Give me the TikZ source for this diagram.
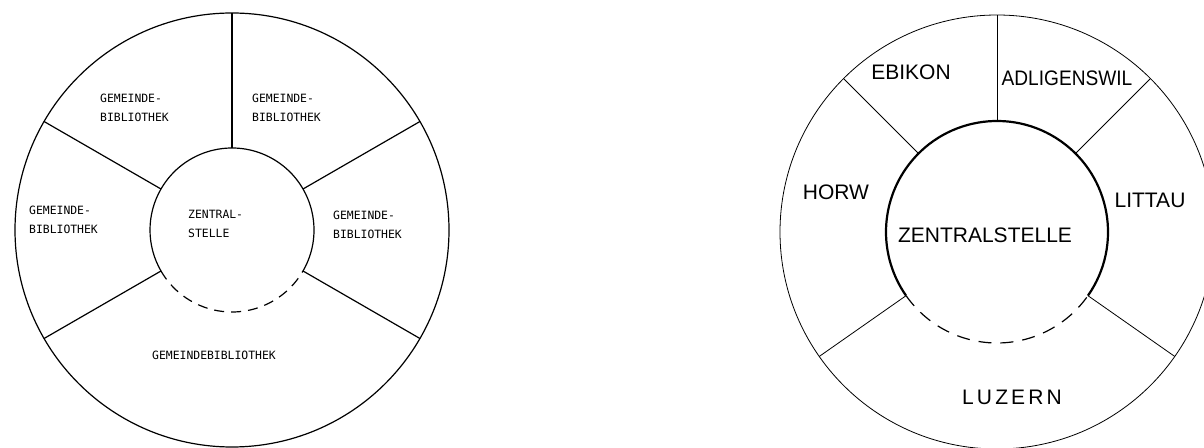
\documentclass[tikz,border=0pt]{standalone}
\usepackage{fontspec}
\newfontfamily\stencilfont{Liberation Sans}
\newfontfamily\spacedfont[LetterSpace=15]{Liberation Sans}
\newfontfamily\typerfont{DejaVu Sans Mono}
\usetikzlibrary{calc}

\begin{document}
\begin{tikzpicture}[x=1pt, y=1pt,
  ring/.style={circle, draw=black, inner sep=0pt, outer sep=0pt},
  core/.style={circle, inner sep=0pt, outer sep=0pt},
  spoke/.style={draw=black, line width=1.2pt},
  thinspoke/.style={draw=black, line width=0.8pt},
  gap/.style={dash pattern=on 10pt off 7pt},
  typed/.style={font=\fontsize{11.4}{19}\selectfont\typerfont, align=left, inner sep=0pt, anchor=west},
  lettered/.style={font=\fontsize{21}{24}\selectfont\stencilfont, inner sep=0pt}
]
\useasboundingbox (0,0) rectangle (1204,447);
\node[ring, line width=1.2pt, minimum size=434pt] (lout) at (232,217) {};
\node[core, minimum size=164pt] (lin) at (232,217) {};
\draw[line width=1.2pt] (lin.330) arc[start angle=-30, end angle=210, radius=82pt];
\draw[line width=1.2pt, gap] (lin.210) arc[start angle=210, end angle=330, radius=82pt];
\draw[spoke] (lin.90) -- (lout.90);
\draw[spoke] (lin.30) -- (lout.30);
\draw[spoke] (lin.150) -- (lout.150);
\draw[spoke] (lin.210) -- (lout.210);
\draw[spoke] (lin.330) -- (lout.330);
\node[typed] (lnw) at (100,339) {GEMEINDE-\\BIBLIOTHEK};
\node[typed] (lne) at (252,339) {GEMEINDE-\\BIBLIOTHEK};
\node[typed] (lw) at (29,227) {GEMEINDE-\\BIBLIOTHEK};
\node[typed] (le) at (333,222) {GEMEINDE-\\BIBLIOTHEK};
\node[typed] (lz) at (188,223) {ZENTRAL-\\STELLE};
\node[typed, anchor=center] (ls) at (214,92) {GEMEINDEBIBLIOTHEK};
\node[ring, line width=0.8pt, minimum size=434pt] (rout) at (997,215) {};
\node[core, minimum size=222pt] (rin) at (997,215) {};
\draw[line width=2.2pt] (rin.325) arc[start angle=-35, end angle=215, radius=111pt];
\draw[line width=1.2pt, dash pattern=on 13pt off 9pt] (rin.215) arc[start angle=215, end angle=325, radius=111pt];
\draw[thinspoke] (rin.90) -- (rout.90);
\draw[thinspoke] (rin.45) -- (rout.45);
\draw[thinspoke] (rin.135) -- (rout.135);
\draw[thinspoke] (rin.215) -- (rout.215);
\draw[thinspoke] (rin.325) -- (rout.325);
\node[lettered] (rebikon) at (911,375) {EBIKON};
\node[lettered] (radligenswil) at (1067,369) {\scalebox{0.91}[1]{ADLIGENSWIL}};
\node[lettered] (rhorw) at (836,255) {HORW};
\node[lettered] (rlittau) at (1150,247) {LITTAU};
\node[lettered] (rzentral) at (985,212) {ZENTRALSTELLE};
\node[lettered, font=\fontsize{21}{24}\selectfont\spacedfont] (rluzern) at (1012,50) {LUZERN};
\end{tikzpicture}
\end{document}
